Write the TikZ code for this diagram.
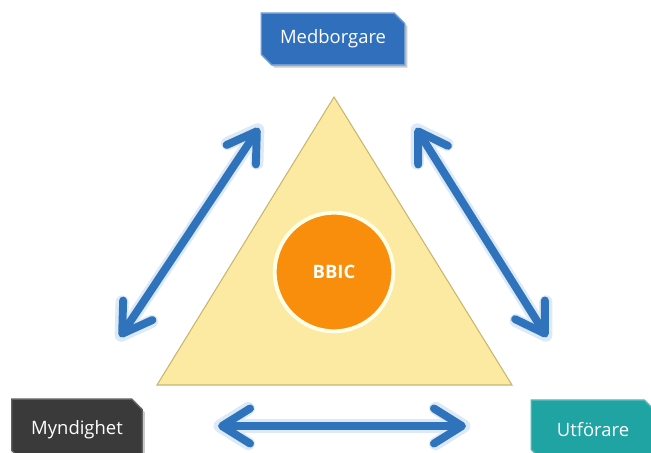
\documentclass[tikz,border=0pt]{standalone}
\usepackage{fontspec}
\newfontfamily\boxfont{Open Sans}
\usetikzlibrary{shapes.misc,shadows,arrows.meta}

\definecolor{medblue}{HTML}{2F6FBC}
\definecolor{mynddark}{HTML}{3A3A3A}
\definecolor{utfteal}{HTML}{1FA3A3}
\definecolor{arrowblue}{HTML}{2E73BC}
\definecolor{glowblue}{HTML}{DCE9F7}
\definecolor{triyellow}{HTML}{FCE9A2}
\definecolor{triedge}{HTML}{C9B66E}
\definecolor{bbicorange}{HTML}{F98D0C}

\begin{document}
\begin{tikzpicture}[x=0.02cm,y=-0.02cm,
	actor/.style={chamfered rectangle,chamfered rectangle corners={north east,south west},chamfered rectangle xsep=3pt,chamfered rectangle ysep=3pt,
		minimum height=52*0.567pt,text=white,font=\boxfont\fontsize{10.5}{12}\selectfont,inner sep=0pt,
		drop shadow={shadow xshift=1.5pt,shadow yshift=-1.5pt,fill=black!35,opacity=0.6}},
	relation/.style={draw=arrowblue,line width=4.5pt,line cap=round,{Straight Barb[length=16pt,width=20pt,round]}-{Straight Barb[length=16pt,width=20pt,round]},
		preaction={draw=glowblue,line width=7.5pt,line cap=round,shorten >=-2.5pt,shorten <=-2.5pt}}]
				
				\useasboundingbox (0,0) rectangle (651,452);
				
				% triangle and center
				\draw[fill=triyellow,draw=triedge,line width=0.6pt] (334,97) -- (512,385) -- (157,385) -- cycle;
				\node[circle,fill=bbicorange,draw=white!90!yellow,line width=2.2pt,minimum size=119*0.567pt,text=white,font=\boxfont\bfseries\fontsize{10.5}{12}\selectfont] (bbic) at (334,272) {BBIC};
				
				% actors
				\node[actor,fill=medblue,draw=medblue!70!white,line width=0.8pt,minimum width=144*0.567pt] (medb) at (333,39) {Medborgare};
				\node[actor,fill=mynddark,draw=mynddark!80!white,line width=0.8pt,minimum width=131*0.567pt,minimum height=62*0.567pt] (mynd) at (77,430) {Myndighet};
				\node[actor,fill=utfteal,draw=utfteal!80!white,line width=0.8pt,minimum width=124*0.567pt,minimum height=60*0.567pt] (utf) at (593,430) {Utförare};
				
				% arrow ends
				\coordinate (lt) at (259,128);
				\coordinate (lb) at (120,337);
				\coordinate (rt) at (416,128);
				\coordinate (rb) at (547,337);
				\coordinate (bl) at (218,426);
				\coordinate (br) at (466,426);
				
				\draw[relation] (lb) -- (lt);
				\draw[relation] (rt) -- (rb);
				\draw[relation] (bl) -- (br);
				
				\end{tikzpicture}
\end{document}
